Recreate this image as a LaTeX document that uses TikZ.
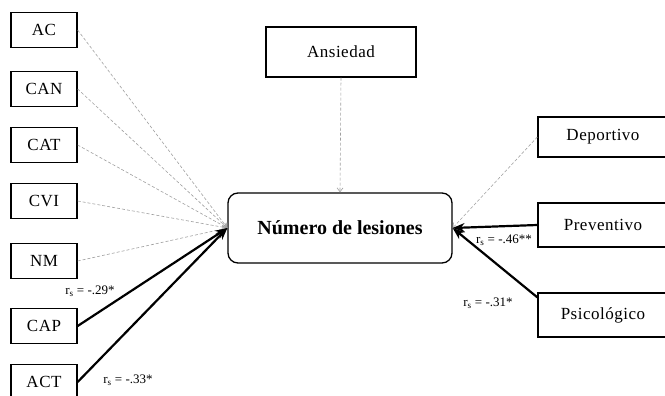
\documentclass[tikz,border=0pt]{standalone}
\usepackage{fontspec}
\setmainfont{Liberation Serif}
\newfontfamily\boxfont[LetterSpace=3]{Liberation Serif}
\usetikzlibrary{arrows.meta}
\begin{document}
\begin{tikzpicture}[x=1pt,y=-1pt,
    box/.style={draw,line width=1.3pt,minimum width=66pt,minimum height=35pt,
        inner sep=0pt,font=\boxfont\fontsize{17}{20}\selectfont},
    nonsig/.style={draw=gray!75,line width=0.6pt,dash pattern=on 3pt off 2pt,
        -{Straight Barb[length=4pt,width=6pt]}},
    sig/.style={line width=2.2pt,-{Stealth[length=12pt,width=9pt]}},
    rlab/.style={font=\fontsize{13}{15}\selectfont}]
    \useasboundingbox (0,0) rectangle (665,396);
    \clip (0,0) rectangle (665,396);
    % variable dependiente
    \node [draw,line width=1.3pt,rounded corners=10pt,minimum width=224pt,
        minimum height=70pt,font=\fontsize{20}{24}\selectfont\bfseries]
        (nles) at (340,228) {Número de lesiones};
    \node [box,minimum width=150pt,minimum height=50pt] (ans) at (341,52) {Ansiedad};
    % factores de la izquierda
    \node [box] (ac) at (44,30) {AC};
    \node [box] (can) at (44,89) {CAN};
    \node [box] (cat) at (44,145) {CAT};
    \node [box] (cvi) at (44,201) {CVI};
    \node [box] (nm) at (44,261) {NM};
    \node [box] (cap) at (44,326) {CAP};
    \node [box] (act) at (44,382) {ACT};
    % factores de la derecha
    \node [box,minimum width=130pt,minimum height=40pt] (dep) at (603,137) {Deportivo};
    \node [box,minimum width=130pt,minimum height=44pt] (prev) at (603,225) {Preventivo};
    \node [box,minimum width=130pt,minimum height=44pt] (psi) at (603,315) {Psicológico};
    % relaciones
    \foreach \v in {ac,can,cat,cvi,nm}
        \draw [nonsig] (\v.east) -- (nles.west);
    \draw [nonsig] (ans.south) -- (nles.north);
    \draw [nonsig] (dep.west) -- (nles.east);
    \draw [sig] (cap.east) -- (nles.west);
    \draw [sig] (act.east) -- (nles.west);
    \draw [sig] (prev.west) -- (nles.east);
    \draw [sig] ([yshift=-5pt]psi.north west) -- (nles.east);
    \node [rlab] (r29) at (90,291) {r\textsubscript{s} = -.29*};
    \node [rlab] (r33) at (128,380) {r\textsubscript{s} = -.33*};
    \node [rlab] (r46) at (504,240) {r\textsubscript{s} = -.46**};
    \node [rlab] (r31) at (488,303) {r\textsubscript{s} = -.31*};
\end{tikzpicture}
\end{document}
